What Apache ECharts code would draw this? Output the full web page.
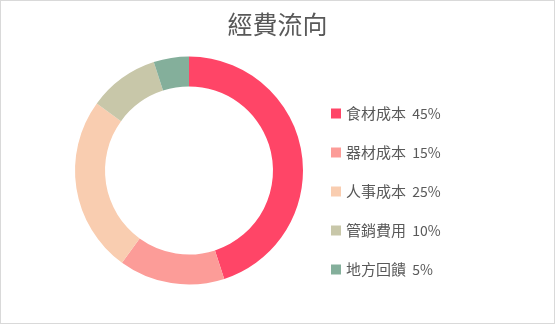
<!DOCTYPE html>
<html>
<head>
<meta charset="utf-8">
<script src="https://cdn.jsdelivr.net/npm/echarts@6/dist/echarts.min.js"></script>
<style>
html,body{margin:0;padding:0;background:#fff;}
#wrap{width:555px;height:324px;box-sizing:border-box;border:1px solid #d9d9d9;position:relative;}
#main{position:absolute;left:-1px;top:-1px;width:555px;height:324px;}
</style>
</head>
<body>
<div id="wrap"><div id="main"></div></div>
<script>
const categories = ['食材成本', '器材成本', '人事成本', '管銷費用', '地方回饋'];
const values = [45, 15, 25, 10, 5];
const palette = ['#FF4567', '#FC9C98', '#F9CDB0', '#C8C7A9', '#84AF9B'];
const titleText = '經費流向';

const total = values.reduce((a, b) => a + b, 0);
const font = '"Noto Sans CJK TC", "Noto Sans", sans-serif';
const chart = echarts.init(document.getElementById('main'), null, {renderer: 'canvas'});
chart.setOption({
  animation: false,
  color: palette,
  title: {
    text: titleText,
    left: 'center',
    top: 7,
    textStyle: {fontFamily: font, fontSize: 25, fontWeight: 'normal', color: '#595959'}
  },
  legend: {
    orient: 'vertical',
    left: 326,
    top: 101,
    icon: 'rect',
    itemWidth: 10,
    itemHeight: 10,
    itemGap: 24,
    data: categories,
    formatter: function (name) {
      const i = categories.indexOf(name);
      return '{n|' + name + '}{p|  ' + Math.round(values[i] / total * 100) + '%}';
    },
    textStyle: {
      fontFamily: font, fontSize: 15, color: '#595959', lineHeight: 15,
      rich: {
        n: {fontFamily: font, fontSize: 15, color: '#595959', lineHeight: 15},
        p: {fontFamily: font, fontSize: 14, color: '#595959', lineHeight: 15}
      }
    }
  },
  series: [{
    type: 'pie',
    center: [189, 170.5],
    radius: [84, 114],
    startAngle: 90,
    clockwise: true,
    label: {show: false},
    labelLine: {show: false},
    emphasis: {disabled: true},
    itemStyle: {borderWidth: 0},
    data: categories.map((c, i) => ({name: c, value: values[i]}))
  }]
});
</script>
</body>
</html>
